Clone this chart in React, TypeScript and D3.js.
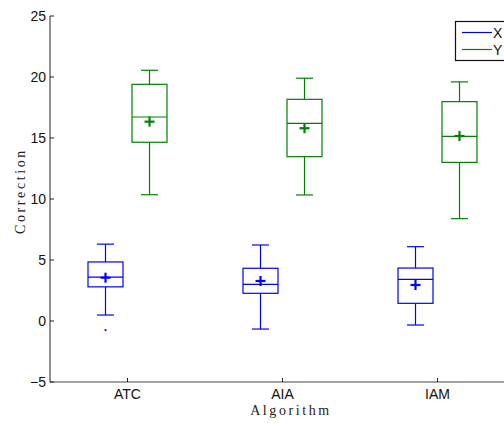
import React from "react";
import * as d3 from "d3";

const categories = ["ATC", "AIA", "IAM"];
const seriesNames = ["X", "Y"];
const seriesColors = ["#0000ff", "#008000"];
// [lowerWhisker, q1, median, q3, upperWhisker, mean]
const seriesX = [
  [0.49, 2.8, 3.6, 4.84, 6.3, 3.55],
  [-0.66, 2.27, 3.0, 4.32, 6.23, 3.28],
  [-0.33, 1.45, 3.42, 4.34, 6.09, 2.95],
];
const seriesY = [
  [10.35, 14.65, 16.72, 19.4, 20.55, 16.34],
  [10.33, 13.47, 16.2, 18.17, 19.9, 15.8],
  [8.39, 13.0, 15.14, 17.98, 19.6, 15.16],
];
const outliersX = [[-0.74], [], []];
const outliersY = [[], [], []];
const yTicks = [-5, 0, 5, 10, 15, 20, 25];

export default function App() {
  const W = 504, H = 423;
  const left = 50, top = 16, bottom = 382, right = 515;
  const x = d3.scaleBand<string>().domain(categories).range([left, right]).padding(0);
  const y = d3.scaleLinear().domain([-5, 25]).range([bottom, top]);
  const offsets = [-22, 22];
  const boxW = 35, capW = 17;
  const allSeries = [seriesX, seriesY];
  const allOut = [outliersX, outliersY];
  const fmt = (v: number) => (v < 0 ? "\u2212" + Math.abs(v) : String(v));
  const sans = "Liberation Sans, Arial, sans-serif";

  return (
    <svg width={W} height={H} style={{ position: "absolute", left: 0, top: 0, background: "#fff" }}>
      <rect x={0} y={0} width={W} height={H} fill="#fff" />
      {/* axes */}
      <line x1={left} x2={left} y1={top} y2={bottom} stroke="#222" strokeWidth={1} />
      <line x1={left} x2={right} y1={bottom} y2={bottom} stroke="#444" strokeWidth={1.2} />
      {yTicks.map((t) => (
        <g key={t}>
          <line x1={left} x2={left + 4} y1={y(t)} y2={y(t)} stroke="#222" />
          <text x={left - 4} y={y(t)} dy="0.36em" textAnchor="end" fontFamily={sans} fontSize={14} fill="#111">
            {fmt(t)}
          </text>
        </g>
      ))}
      {categories.map((c) => {
        const cx = (x(c) as number) + x.bandwidth() / 2;
        return (
          <g key={c}>
            <line x1={cx} x2={cx} y1={bottom} y2={bottom - 4} stroke="#222" />
            <text x={cx} y={bottom + 17} textAnchor="middle" fontFamily={sans} fontSize={14} fill="#111">
              {c}
            </text>
          </g>
        );
      })}
      <text x={291} y={415} textAnchor="middle" fontFamily="Liberation Serif, serif" fontSize={14} letterSpacing={2.6} fill="#222">
        Algorithm
      </text>
      <text transform={`translate(25,${191}) rotate(-90)`} textAnchor="middle" fontFamily="Liberation Serif, serif" fontSize={14} letterSpacing={2.6} fill="#222">
        Correction
      </text>
      {/* boxes */}
      {allSeries.map((series, si) =>
        series.map((d, ci) => {
          const cx = (x(categories[ci]) as number) + x.bandwidth() / 2 + offsets[si];
          const col = seriesColors[si];
          const [lw, q1, med, q3, uw, mean] = d;
          return (
            <g key={si + "-" + ci} stroke={col} fill="none">
              <line x1={cx} x2={cx} y1={y(uw)} y2={y(q3)} strokeWidth={1.2} />
              <line x1={cx} x2={cx} y1={y(q1)} y2={y(lw)} strokeWidth={1.2} />
              <line x1={cx - capW / 2} x2={cx + capW / 2} y1={y(uw)} y2={y(uw)} strokeWidth={1.2} />
              <line x1={cx - capW / 2} x2={cx + capW / 2} y1={y(lw)} y2={y(lw)} strokeWidth={1.2} />
              <rect x={cx - boxW / 2} y={y(q3)} width={boxW} height={y(q1) - y(q3)} strokeWidth={1.2} />
              <line x1={cx - boxW / 2} x2={cx + boxW / 2} y1={y(med)} y2={y(med)} strokeWidth={1.2} />
              <line x1={cx - 5} x2={cx + 5} y1={y(mean)} y2={y(mean)} strokeWidth={2.2} />
              <line x1={cx} x2={cx} y1={y(mean) - 5} y2={y(mean) + 5} strokeWidth={2.2} />
              {allOut[si][ci].map((o, oi) => (
                <circle key={oi} cx={cx} cy={y(o)} r={1.1} fill={col} stroke="none" />
              ))}
            </g>
          );
        })
      )}
      {/* legend */}
      <rect x={455.5} y={21.5} width={60} height={39} fill="#fff" stroke="#111" strokeWidth={1.2} />
      {seriesNames.map((n, i) => (
        <g key={n}>
          <line x1={462} x2={492} y1={32.5 + i * 17} y2={32.5 + i * 17} stroke={seriesColors[i]} strokeWidth={1.2} />
          <text x={493} y={32.5 + i * 17} dy="0.36em" fontFamily={sans} fontSize={14} fill="#111">
            {n}
          </text>
        </g>
      ))}
    </svg>
  );
}
